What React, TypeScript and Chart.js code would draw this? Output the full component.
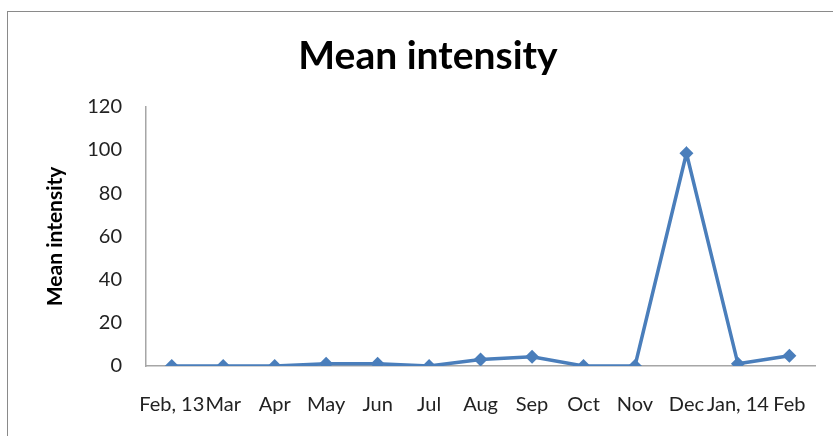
import React, { useEffect, useRef } from "react";
import { Chart, registerables } from "chart.js";

Chart.register(...registerables);

const categories = ["Feb, 13", "Mar", "Apr", "May", "Jun", "Jul", "Aug", "Sep", "Oct", "Nov", "Dec", "Jan, 14", "Feb"];
const meanIntensity = [0, 0, 0, 1, 1, 0, 3, 4.3, 0, 0, 98.5, 1, 4.7];
const yTicks = [0, 20, 40, 60, 80, 100, 120];

const FONT = "Lato, 'Noto Sans', sans-serif";

export default function App() {
  const ref = useRef<HTMLCanvasElement | null>(null);

  useEffect(() => {
    if (!ref.current) return;
    const chart = new Chart(ref.current, {
      type: "line",
      data: {
        labels: categories,
        datasets: [
          {
            label: "Mean intensity",
            data: meanIntensity,
            borderColor: "#4A7EBB",
            backgroundColor: "#4A7EBB",
            borderWidth: 3.5,
            pointStyle: "rectRot",
            pointRadius: 7,
            pointHoverRadius: 7,
            pointBorderWidth: 0,
            tension: 0,
          },
        ],
      },
      options: {
        animation: false,
        responsive: false,
        maintainAspectRatio: false,
        layout: { padding: { left: 36, right: 13, top: 0, bottom: 0 } },
        plugins: {
          legend: { display: false },
          tooltip: { enabled: false },
          title: {
            display: true,
            text: "Mean intensity",
            color: "#000",
            font: { family: FONT, size: 39, weight: "bold" },
            padding: { top: 33, bottom: 27 },
          },
        },
        scales: {
          x: {
            type: "category",
            offset: true,
            grid: { display: false, drawTicks: false },
            border: { display: true, color: "#A6A6A6", width: 1.5 },
            ticks: {
              color: "#222",
              font: { family: FONT, size: 20 },
              padding: 27,
              maxRotation: 0,
              autoSkip: false,
            },
            afterFit: (s: any) => {
              s.height = 70;
            },
          },
          y: {
            min: 0,
            max: 120,
            afterBuildTicks: (s: any) => {
              s.ticks = yTicks.map((v) => ({ value: v }));
            },
            grid: { display: false, drawTicks: false },
            border: { display: true, color: "#A6A6A6", width: 1.5 },
            ticks: {
              color: "#222",
              font: { family: FONT, size: 20 },
              padding: 24,
            },
            title: {
              display: true,
              text: "Mean intensity",
              color: "#000",
              font: { family: FONT, size: 21, weight: "bold" },
              padding: { top: 7, bottom: 0 },
            },
            afterFit: (s: any) => {
              s.width = 110;
            },
          },
        },
      },
    });
    return () => chart.destroy();
  }, []);

  return (
    <div style={{ position: "fixed", left: 0, top: 0, width: 833, height: 436, background: "#fff", overflow: "hidden" }}>
      <div
        style={{
          position: "absolute",
          left: 7,
          top: 11,
          width: 840,
          height: 440,
          border: "1.5px solid #8a8a8a",
          boxSizing: "border-box",
        }}
      />
      <canvas ref={ref} width={833} height={436} style={{ position: "absolute", left: 0, top: 0 }} />
    </div>
  );
}
